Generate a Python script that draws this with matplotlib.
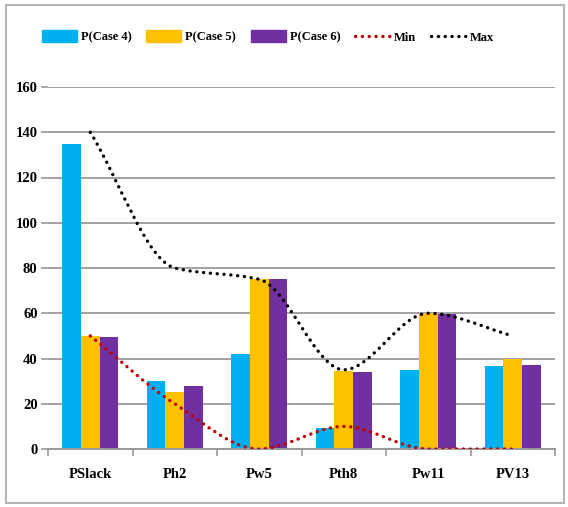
import matplotlib
matplotlib.use("Agg")
import matplotlib.pyplot as plt
import numpy as np
from matplotlib.path import Path
from matplotlib.patches import PathPatch, Rectangle
from matplotlib.lines import Line2D

categories = ["PSlack", "Ph2", "Pw5", "Pth8", "Pw11", "PV13"]
case4 = [135, 30, 42, 9.5, 35, 36.5]
case5 = [50, 25, 75, 34.5, 60, 40]
case6 = [49.5, 28, 75, 34, 59.5, 37]
p_min = [50, 20, 0, 10, 0, 0]
p_max = [140, 80, 75, 35, 60, 50]
y_ticks = [0, 20, 40, 60, 80, 100, 120, 140, 160]

C4, C5, C6 = "#00B0F0", "#FFC000", "#7030A0"
RED, BLACK = "#C00000", "#000000"
FONT = "Liberation Serif"

plt.rcParams["font.family"] = FONT
plt.rcParams["font.weight"] = "bold"

fig = plt.figure(figsize=(5.68, 5.07), dpi=100)
ax = fig.add_axes([48 / 568, 1 - 449 / 507, (555 - 48) / 568, (449 - 87) / 507])

x = np.arange(len(categories))
w = 0.22
ax.bar(x - w, case4, w, color=C4, zorder=2)
ax.bar(x, case5, w, color=C5, zorder=2)
ax.bar(x + w, case6, w, color=C6, zorder=2)


def smooth_path(xs, ys):
    # monotone cubic (Fritsch-Carlson) curve through the points, as Bezier segments
    xs = np.asarray(xs, float)
    ys = np.asarray(ys, float)
    n = len(xs)
    h = np.diff(xs)
    d = np.diff(ys) / h
    m = np.zeros(n)
    m[0], m[-1] = d[0], d[-1]
    for i in range(1, n - 1):
        if d[i - 1] * d[i] > 0:
            w1 = 2 * h[i] + h[i - 1]
            w2 = h[i] + 2 * h[i - 1]
            m[i] = (w1 + w2) / (w1 / d[i - 1] + w2 / d[i])
    verts = [(xs[0], ys[0])]
    codes = [Path.MOVETO]
    for i in range(n - 1):
        verts += [(xs[i] + h[i] / 3, ys[i] + m[i] * h[i] / 3),
                  (xs[i + 1] - h[i] / 3, ys[i + 1] - m[i + 1] * h[i] / 3),
                  (xs[i + 1], ys[i + 1])]
        codes += [Path.CURVE4] * 3
    return Path(verts, codes)


LW = 2.4
DOTS = (0, (0.05, 2.0))
dot_style = dict(fill=False, linewidth=LW, linestyle=DOTS, capstyle="round", zorder=3)
ax.add_patch(PathPatch(smooth_path(x, p_min), edgecolor=RED, **dot_style))
ax.add_patch(PathPatch(smooth_path(x, p_max), edgecolor=BLACK, **dot_style))

ax.set_xlim(-0.5, len(categories) - 0.5)
ax.set_ylim(0, 160)
ax.set_yticks(y_ticks)
ax.set_yticklabels([str(v) for v in y_ticks], fontsize=10.5, fontweight="bold")
ax.set_xticks(x)
ax.set_xticklabels(categories, fontsize=10.5, fontweight="bold")
ax.set_xticks(np.arange(-0.5, len(categories)), minor=True)
ax.tick_params(axis="x", which="major", length=0, pad=14)
ax.tick_params(axis="x", which="minor", length=5, width=1.2, color="#9a9a9a", direction="out")
ax.tick_params(axis="y", length=5, width=1.2, color="#9a9a9a", pad=2.5)
ax.grid(axis="y", color="#9a9a9a", linewidth=1.3, zorder=0)
ax.set_axisbelow(True)
for side in ("top", "right", "left"):
    ax.spines[side].set_visible(False)
ax.spines["bottom"].set_color("#9a9a9a")
ax.spines["bottom"].set_linewidth(1.4)

handles = [
    Rectangle((0, 0), 1, 1, color=C4),
    Rectangle((0, 0), 1, 1, color=C5),
    Rectangle((0, 0), 1, 1, color=C6),
    Line2D([], [], color=RED, linewidth=LW, linestyle=DOTS, dash_capstyle="round"),
    Line2D([], [], color=BLACK, linewidth=LW, linestyle=DOTS, dash_capstyle="round"),
]
labels = ["P(Case 4)", "P(Case 5)", "P(Case 6)", "Min", "Max"]
fig.legend(handles, labels, loc="center", bbox_to_anchor=(268 / 568, 1 - 37 / 507),
           ncol=5, frameon=False, handlelength=2.8, handleheight=1.1,
           handletextpad=0.3, columnspacing=1.2,
           prop={"family": FONT, "weight": "bold", "size": 9})

# outer chart frame
fig.add_artist(Rectangle((6 / 568, 1 - 503 / 507), (564 - 6) / 568, (503 - 5) / 507,
                         transform=fig.transFigure, fill=False, edgecolor="#b5b5b5",
                         linewidth=1.5))

fig.savefig("out.png", dpi=100)
